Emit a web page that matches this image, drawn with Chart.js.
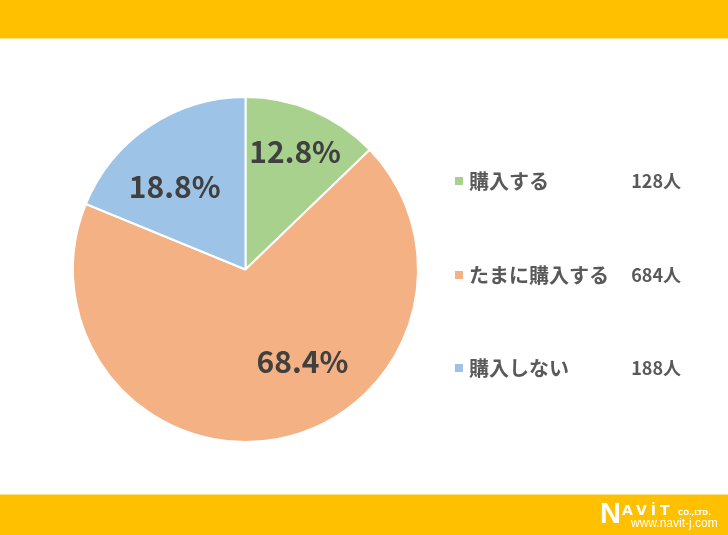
<!DOCTYPE html>
<html><head><meta charset="utf-8">
<script src="https://cdn.jsdelivr.net/npm/chart.js@4"></script>
<style>html,body{margin:0;padding:0;background:#fff;}#wrap{width:728px;height:535px;position:relative;}</style>
</head><body><div id="wrap"><canvas id="c" width="728" height="535"></canvas></div>
<script>
const categories = ["購入する", "たまに購入する", "購入しない"];
const percents = [12.8, 68.4, 18.8];
const counts = ["128人", "684人", "188人"];
const colors = ["#A9D18E", "#F4B183", "#9DC3E6"];
// label placement (angle from top in degrees, distance in px from centre)
const labelPos = [[22.8, 128], [148.4, 108.6], [-40.5, 109]];
const legendRowsY = [181, 275, 368];

const JP = "'Noto Sans CJK JP', 'Noto Sans', sans-serif";

const decor = {
  id: 'decor',
  beforeDraw(chart) {
    const ctx = chart.ctx;
    ctx.save();
    ctx.fillStyle = '#fff';
    ctx.fillRect(0, 0, 728, 535);
    ctx.fillStyle = '#FFC000';
    ctx.fillRect(0, 0, 728, 38);
    ctx.fillRect(0, 495, 728, 40);
    ctx.fillStyle = '#FFE38A';
    ctx.fillRect(0, 38, 728, 1);
    ctx.fillRect(0, 494, 728, 1);
    // logo
    ctx.fillStyle = '#fff';
    ctx.textBaseline = 'alphabetic';
    ctx.font = "bold 29px 'Liberation Sans'";
    ctx.fillText('N', 600, 523);
    ctx.font = "bold 14px 'DejaVu Sans'";
    ctx.letterSpacing = '4px';
    ctx.fillText('AVİT', 622, 515);
    ctx.letterSpacing = '0px';
    ctx.font = "bold 7px 'DejaVu Sans'";
    ctx.fillText('CO.,LTD.', 678, 515);
    ctx.font = "12px 'Liberation Sans'";
    ctx.fillText('www.navit-j.com', 631, 527);
    ctx.restore();
  },
  afterDraw(chart) {
    const ctx = chart.ctx;
    const meta = chart.getDatasetMeta(0);
    const arc0 = meta.data[0];
    const cx = arc0.x, cy = arc0.y;
    ctx.save();
    ctx.fillStyle = '#404040';
    ctx.font = "bold 30px " + JP;
    ctx.textAlign = 'center';
    ctx.textBaseline = 'middle';
    percents.forEach((p, i) => {
      const a = labelPos[i][0] * Math.PI / 180;
      const r = labelPos[i][1];
      ctx.fillText(p.toFixed(1) + '%', cx + r * Math.sin(a), cy - r * Math.cos(a));
    });
    // legend
    categories.forEach((c, i) => {
      const y = legendRowsY[i];
      ctx.fillStyle = colors[i];
      ctx.fillRect(455, y - 4, 8, 8);
      ctx.fillStyle = '#595959';
      ctx.textAlign = 'left';
      ctx.font = "bold 20px " + JP;
      ctx.fillText(c, 469, y);
      ctx.textAlign = 'right';
      ctx.font = "bold 18px " + JP;
      ctx.fillText(counts[i], 681, y);
    });
    ctx.restore();
  }
};

new Chart(document.getElementById('c'), {
  type: 'pie',
  data: {
    labels: categories,
    datasets: [{
      data: percents,
      backgroundColor: colors,
      borderColor: '#ffffff',
      borderWidth: 2
    }]
  },
  options: {
    responsive: false,
    animation: false,
    events: [],
    layout: { padding: { left: 72, right: 309, top: 96, bottom: 92 } },
    plugins: { legend: { display: false }, tooltip: { enabled: false } }
  },
  plugins: [decor]
});
</script></body></html>
